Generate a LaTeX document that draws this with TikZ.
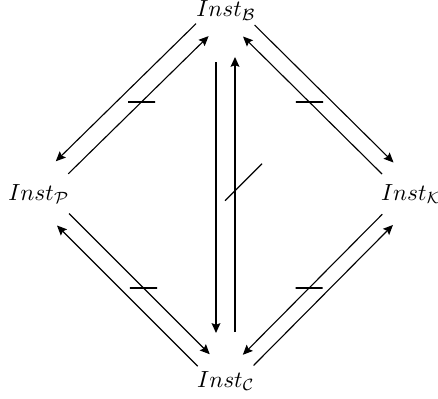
\documentclass[tikz,border=0pt]{standalone}
\usetikzlibrary{arrows.meta,calc}
\begin{document}
\begin{tikzpicture}[x=0.45pt,y=-0.45pt,
  lbl/.style={inner sep=0pt, outer sep=0pt, scale=1.05},
  tipA/.tip={Stealth[length=4.4pt,width=3.9pt,inset=0.7pt]},
  con/.style={line width=0.5pt},
  arr/.style={con,-tipA},
  vcon/.style={line width=0.8pt},
  varr/.style={vcon,-tipA},
  tickmark/.style={draw, line width=0.8pt, inner sep=0pt, outer sep=0pt,
    minimum width=12.2pt, minimum height=0pt},
  slashmark/.style={line width=0.5pt}]
\useasboundingbox (0,0) rectangle (438,398);

\node[lbl] (B) at (226,10.5)   {$Inst_{\mathcal{B}}$};
\node[lbl] (P) at (39,194)  {$Inst_{\mathcal{P}}$};
\node[lbl] (K) at (411.5,194)   {$Inst_{\mathcal{K}}$};
\node[lbl] (C) at (226,381) {$Inst_{\mathcal{C}}$};

% B -- P
\draw[arr, transform canvas={shift={(-8.2,-8.2)}}, shorten <=13.7pt, shorten >=15.75pt] (B.center) -- (P.center);
\draw[arr, transform canvas={shift={(4.3,4.3)}}, shorten <=15.75pt, shorten >=13.7pt] (P.center) -- node[tickmark, pos=0.526] (t1) {} (B.center);
% B -- K
\draw[arr, transform canvas={shift={(6.9,-6.9)}}, shorten <=13.7pt, shorten >=15.75pt] (B.center) -- (K.center);
\draw[arr, transform canvas={shift={(-4.6,4.6)}}, shorten <=15.75pt, shorten >=13.7pt] (K.center) -- node[tickmark, pos=0.525] (t2) {} (B.center);
% P -- C
\draw[arr, transform canvas={shift={(5.25,-5.25)}}, shorten <=15.75pt, shorten >=13.7pt] (P.center) -- node[tickmark, pos=0.531] (t3) {} (C.center);
\draw[arr, transform canvas={shift={(-6.75,6.75)}}, shorten <=13.7pt, shorten >=15.75pt] (C.center) -- (P.center);
% K -- C
\draw[arr, transform canvas={shift={(-4.6,-4.6)}}, shorten <=15.75pt, shorten >=13.7pt] (K.center) -- node[tickmark, pos=0.527] (t4) {} (C.center);
\draw[arr, transform canvas={shift={(6.1,6.1)}}, shorten <=13.7pt, shorten >=15.75pt] (C.center) -- (K.center);
% B -- C
\draw[varr, transform canvas={shift={(-10,0)}}, shorten <=23.2pt, shorten >=21.6pt] (B.center) -- (C.center);
\draw[varr, transform canvas={shift={(9,0)}}, shorten <=22pt, shorten >=20.9pt] (C.center) -- (B.center);
\coordinate (mid) at ($(B.center)!0.5!(C.center)$);
\draw[slashmark] ([shift={(-1,5)}]mid) -- ([shift={(36,-32)}]mid);
\end{tikzpicture}
\end{document}
